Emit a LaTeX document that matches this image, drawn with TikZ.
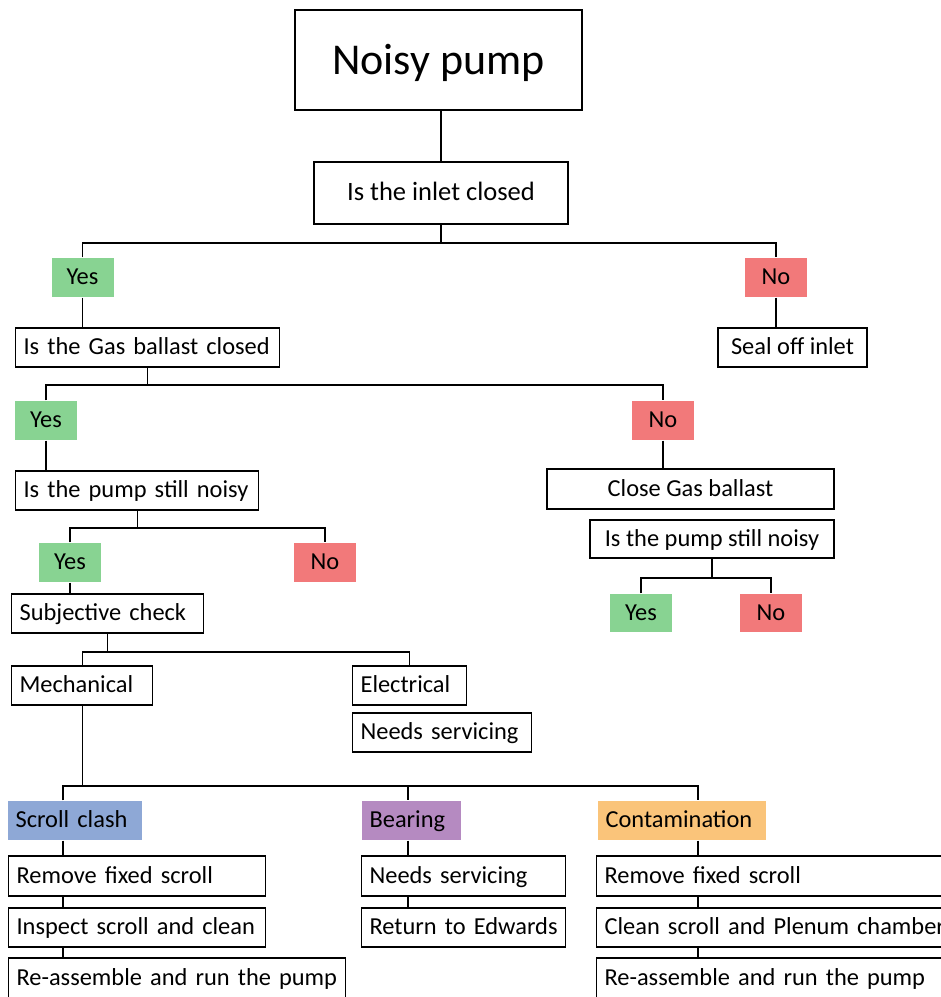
\documentclass[tikz,border=0pt]{standalone}
\usepackage{fontspec}
\setmainfont{Carlito}
\usetikzlibrary{positioning}
\definecolor{yesgreen}{RGB}{136,211,146}
\definecolor{nored}{RGB}{242,121,122}
\definecolor{clashblue}{RGB}{142,168,214}
\definecolor{bearpurple}{RGB}{181,138,193}
\definecolor{contorange}{RGB}{250,196,122}

\begin{document}
\begin{tikzpicture}[x=1pt,y=-1pt,
    box/.style={rectangle,draw,line width=1.2pt,minimum height=39pt,inner xsep=8pt,inner ysep=0pt,
        text height=18pt,text depth=4pt,font=\fontsize{24.4}{28}\selectfont},
    lbox/.style={box,anchor=west,align=left,
        execute at begin node={\leavevmode\hbox\bgroup},execute at end node={\egroup}},
    yes/.style={box,draw=none,fill=yesgreen,minimum width=62pt},
    no/.style={box,draw=none,fill=nored,minimum width=62pt},
    link/.style={line width=1.2pt}]
            \useasboundingbox (0,0) rectangle (941,997);
            \clip (0,0) rectangle (941,997);

            % top of the tree
            \node [box,minimum width=287pt,minimum height=100pt,text height=34pt,text depth=6pt,font=\fontsize{44}{50}\selectfont] (pump) at (438.5,60) {Noisy pump};
            \node [box,minimum width=254pt,minimum height=62pt,font=\fontsize{26.5}{30}\selectfont] (inlet) at (441,193) {Is the inlet closed};
            \node [yes] (yesA) at (82.5,277.5) {Yes};
            \node [no] (noA) at (776,277.5) {No};
            \node [lbox,text width=248pt] (gas) at (15,347.5) {Is the Gas ballast closed};
            \node [box,minimum width=149pt] (seal) at (792.5,347.5) {Seal off inlet};
            \node [yes] (yesB) at (46,420.5) {Yes};
            \node [no] (noB) at (663,420.5) {No};
            \node [lbox,text width=227pt] (noisyL) at (15,490.5) {Is the pump still noisy};
            \node [box,minimum width=287pt,minimum height=40pt] (closegas) at (690.5,489) {Close Gas ballast};
            \node [box,minimum width=244pt,minimum height=38pt] (noisyR) at (712,539) {Is the pump still noisy};
            \node [yes,minimum height=38pt] (yesC) at (641,613) {Yes};
            \node [no,minimum height=38pt] (noC) at (771,613) {No};
            \node [yes] (yesD) at (70,562.5) {Yes};
            \node [no] (noD) at (325,562.5) {No};
            \node [lbox,text width=176pt] (subj) at (11,613.5) {Subjective check};
            \node [lbox,text width=125pt] (mech) at (11,685.5) {Mechanical};
            \node [lbox,text width=98pt] (elec) at (352,685.5) {Electrical};
            \node [lbox,text width=163pt] (needsE) at (352,732.5) {Needs servicing};

            % mechanical faults
            \node [lbox,draw=none,fill=clashblue,text width=118pt] (scroll) at (7,820.5) {Scroll clash};
            \node [lbox,draw=none,fill=bearpurple,text width=83pt] (bearing) at (361,820.5) {Bearing};
            \node [lbox,draw=none,fill=contorange,text width=152pt] (contam) at (597,820.5) {Contamination};
            \node [lbox,text width=241pt,minimum height=40pt] (removeL) at (8,876) {Remove fixed scroll};
            \node [lbox,text width=241pt] (inspect) at (8,927.5) {Inspect scroll and clean};
            \node [lbox,text width=321pt,minimum height=40pt] (reasmL) at (8,978) {Re-assemble and run the pump};
            \node [lbox,text width=188pt,minimum height=40pt] (needsB) at (361,876) {Needs servicing};
            \node [lbox,text width=188pt] (returnE) at (361,927.5) {Return to Edwards};
            \node [lbox,text width=380pt,minimum height=40pt] (removeR) at (596,876) {Remove fixed scroll};
            \node [lbox,text width=380pt] (cleanR) at (596,927.5) {Clean scroll and Plenum chamber};
            \node [lbox,text width=380pt,minimum height=40pt] (reasmR) at (596,978) {Re-assemble and run the pump};

            \coordinate (rowA) at (0,243);
            \coordinate (rowB) at (0,385);
            \coordinate (rowC) at (0,528);
            \coordinate (rowF) at (0,578);
            \coordinate (rowD) at (0,652);
            \coordinate (rowE) at (0,786);
            \coordinate (colA) at (63,0);
            \coordinate (colB) at (408,0);
            \coordinate (colC) at (698,0);

            \draw[link] (pump.south -| inlet) -- (inlet);
            \draw[link] (inlet) -- (inlet |- rowA);
            \draw[link] (yesA) |- (inlet |- rowA) -| (noA);
            \draw[link] (yesA) -- (gas.north -| yesA);
            \draw[link] (noA) -- (seal.north -| noA);
            \draw[link] (gas) -- (gas.center |- rowB);
            \draw[link] (yesB) |- (gas.center |- rowB) -| (noB);
            \draw[link] (yesB) -- (noisyL.north -| yesB);
            \draw[link] (noB) -- (closegas.north -| noB);
            \draw[link] (noisyR) -- (noisyR |- rowF);
            \draw[link] (yesC) |- (noisyR |- rowF) -| (noC);
            \draw[link] (noisyL) -- (noisyL.center |- rowC);
            \draw[link] (yesD) |- (noisyL.center |- rowC) -| (noD);
            \draw[link] (yesD) -- (subj.north -| yesD);
            \draw[link] (subj) -- (subj.center |- rowD);
            \draw[link] (mech.north -| mech.center) |- (subj.center |- rowD) -| (elec.north -| elec.center);
            \draw[link] (mech) -- (mech.center |- rowE);
            \draw[link] (scroll.north -| colA) |- (mech.center |- rowE) -| (contam.north -| colC);
            \draw[link] (colB |- rowE) -- (bearing.north -| colB);

            \path[link]
            (scroll.south -| colA) edge (removeL.north -| colA)
            (removeL.south -| colA) edge (inspect.north -| colA)
            (inspect.south -| colA) edge (reasmL.north -| colA)
            (bearing.south -| colB) edge (needsB.north -| colB)
            (needsB.south -| colB) edge (returnE.north -| colB)
            (contam.south -| colC) edge (removeR.north -| colC)
            (removeR.south -| colC) edge (cleanR.north -| colC)
            (cleanR.south -| colC) edge (reasmR.north -| colC)
            ;

\end{tikzpicture}
\end{document}
